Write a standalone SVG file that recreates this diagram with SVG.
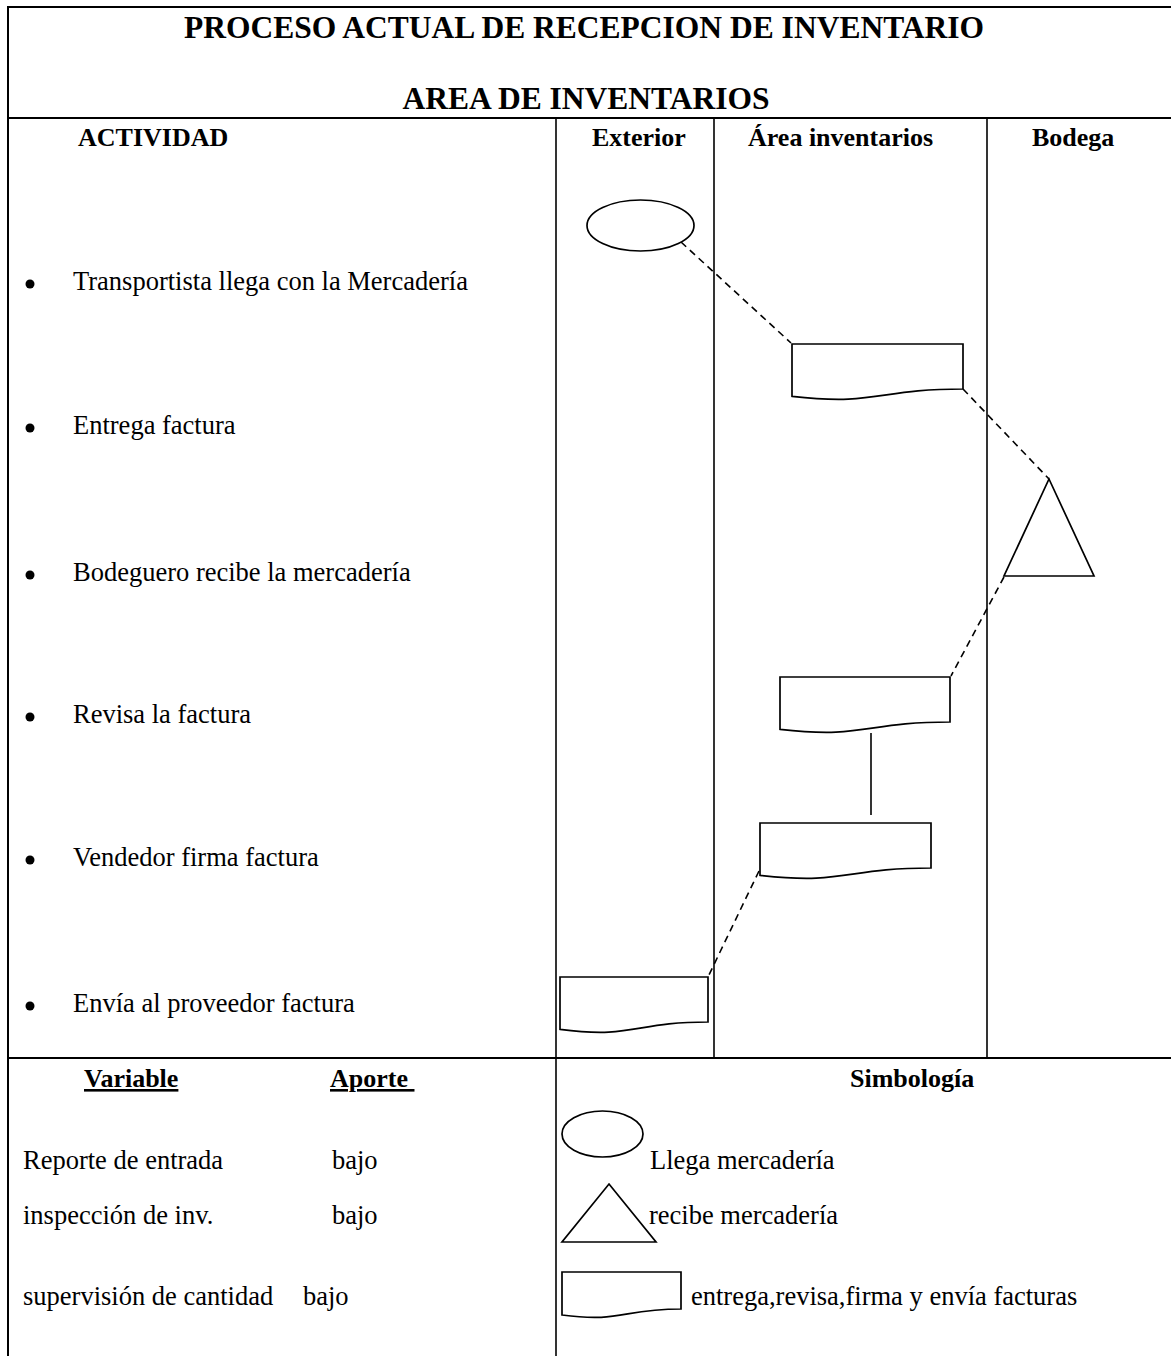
<svg xmlns="http://www.w3.org/2000/svg" width="1171" height="1356" viewBox="0 0 1171 1356">
  <style>
    text { font-family: "Liberation Serif", "Times New Roman", serif; fill: #000; }
    .title { font-size: 31.5px; font-weight: bold; text-anchor: middle; }
    .head { font-size: 26px; font-weight: bold; }
    .body { font-size: 26.5px; }
    .frame { stroke: #000; stroke-width: 2; fill: none; }
    .lane { stroke: #000; stroke-width: 1.6; fill: none; }
    .shape { stroke: #000; stroke-width: 1.7; fill: #fff; }
    .dash { stroke: #000; stroke-width: 1.6; stroke-dasharray: 7 5; fill: none; }
    .solid { stroke: #000; stroke-width: 1.6; fill: none; }
  </style>

  <rect width="1171" height="1356" fill="#fff"/>

  <!-- table frame -->
  <g id="frame">
    <line class="frame" x1="8" y1="7" x2="1171" y2="7"/>
    <line class="frame" x1="8" y1="6" x2="8" y2="1356"/>
    <line class="frame" x1="8" y1="118" x2="1171" y2="118"/>
    <line class="frame" x1="8" y1="1058" x2="1171" y2="1058"/>
    <line class="lane" x1="556" y1="118" x2="556" y2="1356"/>
    <line class="lane" x1="714" y1="118" x2="714" y2="1058"/>
    <line class="lane" x1="987" y1="118" x2="987" y2="1058"/>
  </g>

  <!-- headings -->
  <g id="titles">
    <text class="title" x="584" y="38">PROCESO ACTUAL DE RECEPCION DE INVENTARIO</text>
    <text class="title" x="586" y="109">AREA DE INVENTARIOS</text>
    <text class="head" x="78" y="146">ACTIVIDAD</text>
    <text class="head" x="592" y="146">Exterior</text>
    <text class="head" x="748" y="146">Área inventarios</text>
    <text class="head" x="1032" y="146">Bodega</text>
  </g>

  <!-- activity list -->
  <g id="activities">
    <circle cx="30" cy="284" r="4.5"/>
    <text class="body" x="73" y="290">Transportista llega con la Mercadería</text>
    <circle cx="30" cy="428" r="4.5"/>
    <text class="body" x="73" y="434">Entrega factura</text>
    <circle cx="30" cy="575" r="4.5"/>
    <text class="body" x="73" y="581">Bodeguero recibe la mercadería</text>
    <circle cx="30" cy="717" r="4.5"/>
    <text class="body" x="73" y="723">Revisa la factura</text>
    <circle cx="30" cy="860" r="4.5"/>
    <text class="body" x="73" y="866">Vendedor firma factura</text>
    <circle cx="30" cy="1006" r="4.5"/>
    <text class="body" x="73" y="1012">Envía al proveedor factura</text>
  </g>

  <!-- connectors -->
  <g id="connectors">
    <line class="dash" x1="681" y1="242" x2="791" y2="343"/>
    <line class="dash" x1="963" y1="389" x2="1049" y2="479"/>
    <line class="dash" x1="1004" y1="577" x2="951" y2="676"/>
    <line class="solid" x1="871" y1="733" x2="871" y2="815"/>
    <line class="dash" x1="759" y1="871" x2="708" y2="977"/>
  </g>

  <!-- flow nodes -->
  <g id="llegada">
    <ellipse class="shape" cx="640.5" cy="225.5" rx="53.5" ry="25.5"/>
  </g>
  <g id="entrega-factura">
    <path class="shape" d="M792 344 H963 V389 C877.5 389 877.5 406 792 396.3 Z"/>
  </g>
  <g id="recibe-mercaderia">
    <polygon class="shape" points="1049,479 1094,576 1004,576"/>
  </g>
  <g id="revisa-factura">
    <path class="shape" d="M780 677 H950 V722 C865 722 865 739 780 729.3 Z"/>
  </g>
  <g id="firma-factura">
    <path class="shape" d="M760 823 H931 V868 C845.5 868 845.5 885 760 875.3 Z"/>
  </g>
  <g id="envia-factura">
    <path class="shape" d="M560 977 H708 V1022 C634 1022 634 1039 560 1029.3 Z"/>
  </g>

  <!-- variables table -->
  <g id="variables">
    <text class="head" x="84" y="1087" text-decoration="underline">Variable</text>
    <text class="head" x="330" y="1087" text-decoration="underline" xml:space="preserve">Aporte </text>
    <text class="body" x="23" y="1169">Reporte de entrada</text>
    <text class="body" x="332" y="1169">bajo</text>
    <text class="body" x="23" y="1224">inspección de inv.</text>
    <text class="body" x="332" y="1224">bajo</text>
    <text class="body" x="23" y="1305">supervisión de cantidad</text>
    <text class="body" x="303" y="1305">bajo</text>
  </g>

  <!-- legend -->
  <g id="simbologia">
    <text class="head" x="850" y="1087">Simbología</text>
    <ellipse class="shape" cx="602.5" cy="1134" rx="40.5" ry="23"/>
    <text class="body" x="650" y="1169">Llega mercadería</text>
    <polygon class="shape" points="609,1184 656,1242 562,1242"/>
    <text class="body" x="649" y="1224">recibe mercadería</text>
    <path class="shape" d="M562 1272 H681 V1309 C621.5 1309 621.5 1323 562 1315 Z"/>
    <text class="body" x="691" y="1305">entrega,revisa,firma y envía facturas</text>
  </g>
</svg>
